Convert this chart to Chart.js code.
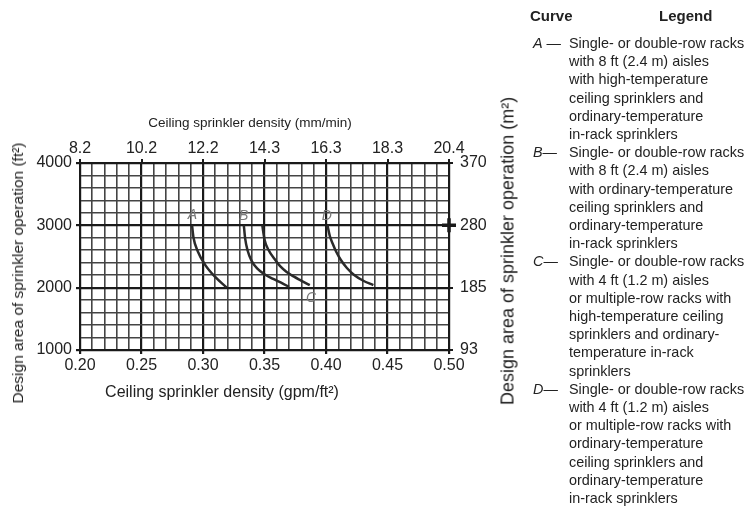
<!DOCTYPE html>
<html>
<head>
<meta charset="utf-8">
<script src="https://cdn.jsdelivr.net/npm/chart.js@4/dist/chart.umd.min.js"></script>
<style>
    body { margin: 0; background: #fff; font-family: "Liberation Sans", Arial, sans-serif; color: #222; }
    #wrap { position: relative; width: 753px; height: 507px; overflow: hidden; }
    #chart { position: absolute; left: 0; top: 0; }
    .title { position: absolute; white-space: nowrap; transform: translate(-50%, -50%); }
    .vert { transform: translate(-50%, -50%) rotate(-90deg); }
    #legend { position: absolute; left: 520px; top: 0; width: 240px; font-size: 14.4px; line-height: 18.2px; }
    #legend .head { position: absolute; top: 7px; font-weight: bold; font-size: 15px; }
    #legend .entries { position: absolute; top: 34px; left: 0; width: 240px; }
    #legend .entry { position: relative; padding-left: 49px; white-space: nowrap; }
    #legend .key { position: absolute; left: 13px; top: 0; }
    #legend .key i { font-style: italic; }
</style>
</head>
<body>
<div id="wrap">
    <canvas id="chart" width="753" height="507"></canvas>

    <div class="title" style="left:250px;top:122px;font-size:13.5px">Ceiling sprinkler density (mm/min)</div>
    <div class="title" style="left:222px;top:392px;font-size:16px">Ceiling sprinkler density (gpm/ft²)</div>
    <div class="title vert" style="left:18px;top:273px;font-size:15.5px">Design area of sprinkler operation (ft²)</div>
    <div class="title vert" style="left:508px;top:251px;font-size:18px">Design area of sprinkler operation (m²)</div>

    <div id="legend">
        <div class="head" style="left:10px">Curve</div>
        <div class="head" style="left:139px">Legend</div>
        <div class="entries">
            <div class="entry"><span class="key"><i>A</i> —</span>Single- or double-row racks<br>with 8 ft (2.4 m) aisles<br>with high-temperature<br>ceiling sprinklers and<br>ordinary-temperature<br>in-rack sprinklers</div>
            <div class="entry"><span class="key"><i>B</i>—</span>Single- or double-row racks<br>with 8 ft (2.4 m) aisles<br>with ordinary-temperature<br>ceiling sprinklers and<br>ordinary-temperature<br>in-rack sprinklers</div>
            <div class="entry"><span class="key"><i>C</i>—</span>Single- or double-row racks<br>with 4 ft (1.2 m) aisles<br>or multiple-row racks with<br>high-temperature ceiling<br>sprinklers and ordinary-<br>temperature in-rack<br>sprinklers</div>
            <div class="entry"><span class="key"><i>D</i>—</span>Single- or double-row racks<br>with 4 ft (1.2 m) aisles<br>or multiple-row racks with<br>ordinary-temperature<br>ceiling sprinklers and<br>ordinary-temperature<br>in-rack sprinklers</div>
        </div>
    </div>
</div>

<script>
// curve data: ceiling density (gpm/ft2) vs design area (ft2)
var curveNames = ['A', 'B', 'C', 'D'];
var aDensity = [0.2911, 0.2923, 0.2958, 0.3016, 0.3095, 0.3191];
var aArea    = [3000, 2800, 2580, 2370, 2180, 2005];
var bDensity = [0.3332, 0.3342, 0.3362, 0.3395, 0.3440, 0.3500, 0.3570, 0.3635, 0.3700];
var bArea    = [3000, 2800, 2600, 2430, 2310, 2215, 2140, 2080, 2012];
var cDensity = [0.3482, 0.3501, 0.3533, 0.3582, 0.3631, 0.3680, 0.3740, 0.3794, 0.3868];
var cArea    = [3000, 2765, 2604, 2460, 2336, 2251, 2176, 2118, 2040];
var dDensity = [0.4012, 0.4031, 0.4053, 0.4084, 0.4121, 0.4170, 0.4229, 0.4300, 0.4385];
var dArea    = [3000, 2829, 2712, 2572, 2444, 2315, 2203, 2115, 2040];

// curve letters
var letterX = [0.2914, 0.333, 0.3879, 0.4007];
var letterY = [3160, 3140, 1830, 3150];

// marker at right edge
var markX = [0.5];
var markY = [3000];

// tick labels
var bottomTicks = ['0.20', '0.25', '0.30', '0.35', '0.40', '0.45', '0.50'];
var topTicks    = ['8.2', '10.2', '12.2', '14.3', '16.3', '18.3', '20.4'];
var leftTicks   = ['1000', '2000', '3000', '4000'];
var rightTicks  = ['93', '185', '280', '370'];

function pts(xs, ys) {
    return xs.map(function (v, i) { return { x: v, y: ys[i] }; });
}

function xMajor(v) { return Math.round(v * 100) % 5 === 0; }
function yMajor(v) { return Math.round(v) % 1000 === 0; }
function xLabel(arr) {
    return function (v) { return xMajor(v) ? arr[Math.round((v - 0.2) / 0.05)] : ''; };
}
function yLabel(arr) {
    return function (v) { return yMajor(v) ? arr[Math.round((v - 1000) / 1000)] : ''; };
}

Chart.defaults.font.family = '"Liberation Sans", Arial, sans-serif';
Chart.defaults.color = '#222';

var tickFont = { size: 16 };
var curveStyle = { borderColor: '#2a2a2a', borderWidth: 2.5, pointRadius: 0, showLine: true, cubicInterpolationMode: 'monotone', fill: false };

var lettersPlugin = {
    id: 'curveLetters',
    afterDatasetsDraw: function (chart) {
        var ctx = chart.ctx, x = chart.scales.x, y = chart.scales.y;
        ctx.save();
        ctx.font = 'italic 14px "Liberation Sans", Arial, sans-serif';
        ctx.fillStyle = '#7a7a7a';
        ctx.textAlign = 'center';
        ctx.textBaseline = 'middle';
        curveNames.forEach(function (n, i) {
            ctx.fillText(n, x.getPixelForValue(letterX[i]), y.getPixelForValue(letterY[i]));
        });
        ctx.restore();
    }
};

new Chart(document.getElementById('chart'), {
    type: 'scatter',
    data: {
        datasets: [
            Object.assign({ label: 'A', data: pts(aDensity, aArea) }, curveStyle),
            Object.assign({ label: 'B', data: pts(bDensity, bArea) }, curveStyle),
            Object.assign({ label: 'C', data: pts(cDensity, cArea) }, curveStyle),
            Object.assign({ label: 'D', data: pts(dDensity, dArea) }, curveStyle),
            { label: 'mark', data: pts(markX, markY), pointStyle: 'cross', pointRadius: 7, borderWidth: 3.5, borderColor: '#1a1a1a', clip: false }
        ]
    },
    options: {
        responsive: false,
        animation: false,
        layout: { padding: 0 },
        plugins: { legend: { display: false }, tooltip: { enabled: false } },
        scales: {
            x: {
                type: 'linear', position: 'bottom', min: 0.2, max: 0.5,
                afterFit: function (s) { s.height = 157; },
                ticks: { stepSize: 0.01, autoSkip: false, maxRotation: 0, padding: 2, font: tickFont, callback: xLabel(bottomTicks) },
                grid: {
                    color: function (c) { return xMajor(c.tick.value) ? '#1a1a1a' : '#444'; },
                    lineWidth: function (c) { return xMajor(c.tick.value) ? 2.2 : 1.6; },
                    tickLength: 4,
                    tickColor: function (c) { return xMajor(c.tick.value) ? '#1a1a1a' : 'rgba(0,0,0,0)'; }
                },
                border: { color: '#1a1a1a', width: 2 }
            },
            x2: {
                type: 'linear', position: 'top', min: 0.2, max: 0.5,
                afterFit: function (s) { s.height = 163; },
                ticks: { stepSize: 0.01, autoSkip: false, maxRotation: 0, padding: 1, font: tickFont, callback: xLabel(topTicks) },
                grid: {
                    drawOnChartArea: false, tickLength: 4,
                    tickColor: function (c) { return xMajor(c.tick.value) ? '#1a1a1a' : 'rgba(0,0,0,0)'; },
                    lineWidth: 2
                },
                border: { color: '#1a1a1a', width: 2 }
            },
            y: {
                type: 'linear', position: 'left', min: 1000, max: 4000,
                afterFit: function (s) { s.width = 80; },
                ticks: { stepSize: 200, autoSkip: false, padding: 4, font: tickFont, callback: yLabel(leftTicks) },
                grid: {
                    color: function (c) { return yMajor(c.tick.value) ? '#1a1a1a' : '#444'; },
                    lineWidth: function (c) { return yMajor(c.tick.value) ? 2.2 : 1.6; },
                    tickLength: 4,
                    tickColor: function (c) { return yMajor(c.tick.value) ? '#1a1a1a' : 'rgba(0,0,0,0)'; }
                },
                border: { color: '#1a1a1a', width: 2 }
            },
            y2: {
                type: 'linear', position: 'right', min: 1000, max: 4000,
                afterFit: function (s) { s.width = 304; },
                ticks: { stepSize: 200, autoSkip: false, padding: 7, font: tickFont, callback: yLabel(rightTicks) },
                grid: {
                    drawOnChartArea: false, tickLength: 4,
                    tickColor: function (c) { return yMajor(c.tick.value) ? '#1a1a1a' : 'rgba(0,0,0,0)'; },
                    lineWidth: 2
                },
                border: { color: '#1a1a1a', width: 2 }
            }
        }
    },
    plugins: [lettersPlugin]
});
</script>
</body>
</html>
